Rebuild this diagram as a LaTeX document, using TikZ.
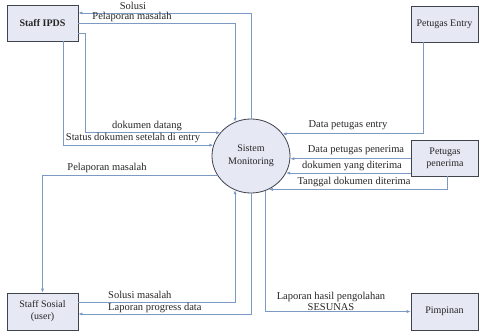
\documentclass[tikz,border=0pt]{standalone}
\usepackage{fontspec}
\setmainfont{Liberation Serif}
\usetikzlibrary{positioning, arrows.meta, shapes.geometric}
\definecolor{isian}{HTML}{E6E8F4}
\definecolor{tepi}{HTML}{3E434E}
\definecolor{garis}{HTML}{7D9AC4}
\definecolor{teks}{HTML}{262626}

\begin{document}
\begin{tikzpicture}[x=1pt, y=-1pt,
		entitas/.style={draw=tepi, fill=isian, line width=0.8pt, align=center, inner sep=0pt,
		                text=teks, font=\fontsize{10}{12}\selectfont},
		proses/.style={ellipse, draw=tepi, fill=isian, line width=0.8pt, inner sep=0pt,
		               minimum width=78pt, minimum height=74pt, align=center,
		               text=teks, font=\fontsize{10}{13}\selectfont},
		alur/.style={draw=garis, line width=0.7pt, -{Latex[length=4pt,width=3.2pt]}},
		ket/.style={inner sep=0pt, text=teks, font=\fontsize{10.5}{11}\selectfont}]
			\useasboundingbox (0,0) rectangle (479,331);

			% entitas luar dan proses
			\node[entitas, font=\fontsize{10}{12}\selectfont\bfseries, minimum width=71pt, minimum height=36pt] (ipds) at (42.5,23) {Staff IPDS};
			\node[entitas, minimum width=67pt, minimum height=36pt] (entry) at (444.5,24) {Petugas Entry};
			\node[entitas, minimum width=67pt, minimum height=36pt] (pen) at (445,158) {Petugas\\penerima};
			\node[entitas, minimum width=71pt, minimum height=37pt] (sosial) at (42.5,311.5) {Staff Sosial\\(user)};
			\node[entitas, minimum width=67pt, minimum height=37pt] (pimp) at (444.5,311.5) {Pimpinan};
			\node[proses] (sm) at (251,156) {Sistem\\Monitoring};

			% alur data
			\draw[alur] (sm.north) |- ([yshift=10pt]ipds.east);
			\draw[alur] (ipds.east) -| (sm.115);
			\draw[alur] ([yshift=-10pt]ipds.east) -- ++(7,0) |- (sm.143);
			\draw[alur] ([xshift=20.5pt]ipds.south) |- (sm.164);
			\draw[alur] (sm.210) -| (sosial.north);
			\draw[alur] ([yshift=9.5pt]sosial.east) -| (sm.245);
			\draw[alur] (sm.south) |- ([yshift=-2.5pt]sosial.east);
			\draw[alur] (sm.292) |- (pimp.west);
			\draw[alur] ([xshift=-21.5pt]entry.south) |- (sm.35);
			\draw[alur] (pen.west |- sm.356) -- (sm.356);
			\draw[alur] (pen.west |- sm.334) -- (sm.334);
			\draw[alur] ([xshift=2pt]pen.south) |- (sm.298);

			% keterangan
			\node[ket] (tSolusi) at (133,5.5) {Solusi};
			\node[ket] (tLapor) at (132,16.5) {Pelaporan masalah};
			\node[ket] (tDatang) at (147,125.5) {dokumen datang};
			\node[ket] (tStatus) at (133,138) {Status dokumen setelah di entry};
			\node[ket] (tLaporSosial) at (107,167.5) {Pelaporan masalah};
			\node[ket, anchor=west] (tSolusiMasalah) at (108,294.5) {Solusi masalah};
			\node[ket, anchor=west] (tProgres) at (108,307.5) {Laporan progress data};
			\node[ket, align=center] (tHasil) at (331,301) {Laporan hasil pengolahan\\SESUNAS};
			\node[ket] (tEntry) at (348,125.5) {Data petugas entry};
			\node[ket] (tPen) at (356,150.5) {Data petugas penerima};
			\node[ket] (tDok) at (352,165.5) {dokumen yang diterima};
			\node[ket] (tTgl) at (354,181.5) {Tanggal dokumen diterima};
		\end{tikzpicture}
\end{document}
